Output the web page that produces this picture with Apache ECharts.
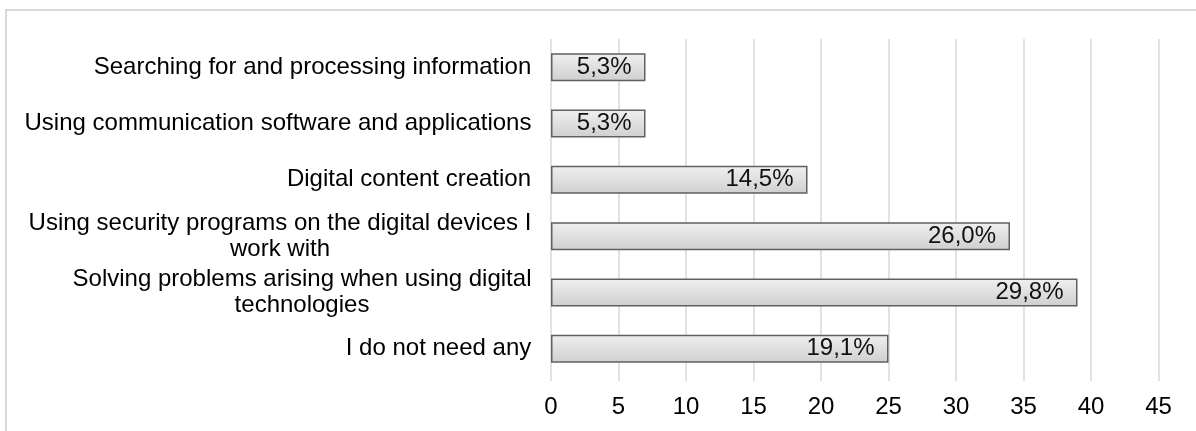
<!DOCTYPE html>
<html>
<head>
<meta charset="utf-8">
<script src="https://cdn.jsdelivr.net/npm/echarts@6/dist/echarts.min.js"></script>
<style>
  html, body { margin: 0; padding: 0; background: #ffffff; }
  #chart { width: 1196px; height: 431px; }
</style>
</head>
<body>
<div id="chart"></div>
<script>
// Answer categories, listed top to bottom ("\n" marks a line break)
const categories = [
  'Searching for and processing information',
  'Using communication software and applications',
  'Digital content creation',
  'Using security programs on the digital devices I\nwork with',
  'Solving problems arising when using digital\ntechnologies',
  'I do not need any'
];
// Number of respondents per answer
const counts = [7, 7, 19, 34, 39, 25];
// Value-axis tick settings
const axisMin = 0;
const axisMax = 45;
const axisStep = 5;

const FONT = '"Liberation Sans", Arial, Helvetica, sans-serif';
const FONT_SIZE = 24;
const LINE_H = 26;

const total = counts.reduce((a, b) => a + b, 0);
const pctLabel = v => (v / total * 100).toFixed(1).replace('.', ',') + '%';

// Measure text so wrapped category lines can be centred inside their block
const ctx = document.createElement('canvas').getContext('2d');
ctx.font = FONT_SIZE + 'px ' + FONT;
const rich = {};
categories.forEach((c, i) => {
  const w = Math.max(...c.split('\n').map(l => ctx.measureText(l).width));
  rich['c' + i] = {
    width: Math.ceil(w) + 1,
    align: 'center',
    fontSize: FONT_SIZE,
    lineHeight: LINE_H,
    fontFamily: FONT,
    color: '#000000'
  };
});

const chart = echarts.init(document.getElementById('chart'), null, { renderer: 'canvas' });
chart.setOption({
  animation: false,
  backgroundColor: '#ffffff',
  textStyle: { fontFamily: FONT },
  graphic: [{
    type: 'rect',
    silent: true,
    shape: { x: 6, y: 10, width: 1400, height: 600 },
    style: { fill: 'none', stroke: '#d9d9d9', lineWidth: 2 }
  }],
  grid: { left: 551, right: 37.5, top: 39, bottom: 54, containLabel: false },
  xAxis: {
    type: 'value',
    min: axisMin,
    max: axisMax,
    interval: axisStep,
    axisLine: { show: false },
    axisTick: { show: true, length: 4, lineStyle: { color: '#d9d9d9', width: 1.5 } },
    splitLine: { show: true, lineStyle: { color: '#d9d9d9', width: 1.5 } },
    axisLabel: { fontSize: FONT_SIZE, color: '#000000', margin: 18, fontFamily: FONT }
  },
  yAxis: {
    type: 'category',
    inverse: true,
    data: categories,
    axisLine: { show: false },
    axisTick: { show: false },
    axisLabel: {
      margin: 19,
      align: 'right',
      formatter: (value, idx) => value.split('\n').map(l => '{c' + idx + '|' + l + '}').join('\n'),
      rich: rich
    }
  },
  series: [{
    type: 'bar',
    data: counts,
    barWidth: 28,
    itemStyle: {
      color: new echarts.graphic.LinearGradient(0, 0, 0, 1, [
        { offset: 0, color: '#f0f0f0' },
        { offset: 1, color: '#cfcfcf' }
      ]),
      borderColor: '#606060',
      borderWidth: 1.5
    },
    label: {
      show: true,
      position: 'insideRight',
      distance: 14,
      fontSize: FONT_SIZE,
      fontFamily: FONT,
      color: '#111111',
      formatter: p => pctLabel(p.value)
    }
  }]
});
</script>
</body>
</html>
